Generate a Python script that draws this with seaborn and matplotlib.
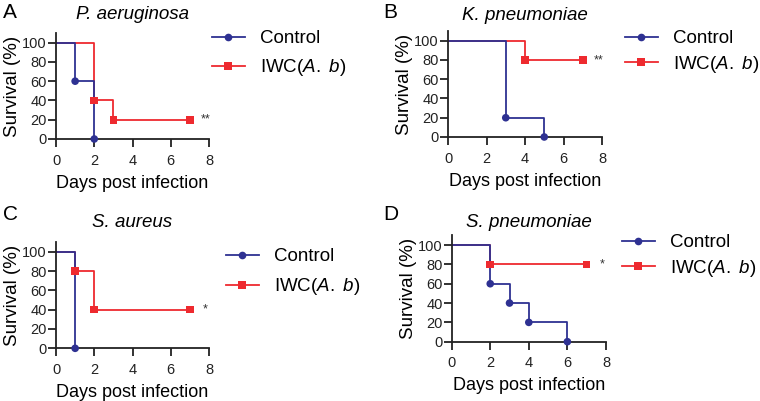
import matplotlib
matplotlib.use("Agg")
import matplotlib.pyplot as plt
import seaborn as sns
import pandas as pd
from matplotlib.lines import Line2D

# ---- data ----
panels = ["A", "B", "C", "D"]
titles = ["P. aeruginosa", "K. pneumoniae", "S. aureus", "S. pneumoniae"]
signif = ["**", "**", "*", "*"]

# step curves: days and survival (%) for each group
ctrl_days = [[0, 1, 2], [0, 3, 5], [0, 1], [0, 2, 3, 4, 6]]
ctrl_surv = [[100, 60, 0], [100, 20, 0], [100, 0], [100, 60, 40, 20, 0]]
iwc_days = [[0, 2, 3, 7], [0, 4, 7], [0, 1, 2, 7], [0, 2, 7]]
iwc_surv = [[100, 40, 20, 20], [100, 80, 80], [100, 80, 40, 40], [100, 80, 80]]
star_y = [20, 80, 40, 80]

groups = ["Control", "IWC(A. b)"]
colors = {"Control": "#2E3192", "IWC(A. b)": "#EE2A2F"}
markers = {"Control": "o", "IWC(A. b)": "s"}

plt.rcParams["font.family"] = ["Liberation Sans", "DejaVu Sans"]
plt.rcParams["mathtext.fontset"] = "custom"
plt.rcParams["mathtext.it"] = "Liberation Sans:italic"
plt.rcParams["mathtext.rm"] = "Liberation Sans"

fig = plt.figure(figsize=(7.6, 4.01), dpi=100)

# axes boxes in figure fractions
boxes = [
    [0.0737, 0.6534, 0.2013, 0.2643],
    [0.5895, 0.6584, 0.2026, 0.2640],
    [0.0737, 0.1314, 0.2013, 0.2650],
    [0.5943, 0.1479, 0.2030, 0.2650],
]
legend_pos = [(212, 36), (625, 36), (226, 254), (622, 240)]
legend_gap = [0.55, 0.35, 0.6, 0.35]
title_pad = [10, 8, 11, 6]
letter_pos = [(3, 3), (383, 3), (3, 205), (383, 205)]

W, H = 760, 401

for i in range(4):
    ax = fig.add_axes(boxes[i])
    frames = []
    for g, d, s in [("IWC(A. b)", iwc_days[i], iwc_surv[i]),
                    ("Control", ctrl_days[i], ctrl_surv[i])]:
        frames.append(pd.DataFrame({"day": d, "surv": s, "group": g}))
    for df in frames:
        g = df["group"].iloc[0]
        sns.lineplot(data=df, x="day", y="surv", color=colors[g],
                     drawstyle="steps-post", lw=1.3, ax=ax, legend=False,
                     estimator=None, clip_on=False)
        ev = df.iloc[1:]
        sns.scatterplot(data=ev, x="day", y="surv", color=colors[g],
                        marker=markers[g], s=30, edgecolor="none",
                        ax=ax, legend=False, clip_on=False, zorder=4)
    ax.text(7.8, star_y[i], signif[i], fontsize=9, va="center", ha="center",
            color="#333333")
    ax.set_xlim(0, 8)
    ax.set_ylim(0, 110)
    ax.set_xticks([0, 2, 4, 6, 8])
    ax.set_yticks([0, 20, 40, 60, 80, 100])
    ax.spines[["top", "right"]].set_visible(False)
    for sp in ["left", "bottom"]:
        ax.spines[sp].set_linewidth(1.3)
        ax.spines[sp].set_color("#222222")
    ax.tick_params(length=5.5, width=1.3, labelsize=10.5, colors="#222222")
    ax.tick_params(axis="y", pad=1)
    ax.tick_params(axis="x", pad=5)
    ax.set_xlabel("Days post infection", fontsize=13, labelpad=5)
    ax.set_ylabel("Survival (%)", fontsize=13.5, labelpad=1)
    ax.set_title(titles[i], fontsize=13.5, style="italic", pad=title_pad[i])

    handles = [Line2D([], [], color=colors[g], marker=markers[g], lw=1.3,
                      markersize=5.5, markeredgewidth=0) for g in groups]
    labels = ["Control", r"IWC($\it{A.}$ $\it{b}$)"]
    lx, ly = legend_pos[i]
    leg = fig.legend(handles, labels, loc="upper left",
                     bbox_to_anchor=(lx / W, 1 - (ly - 6) / H),
                     frameon=False, fontsize=13.5, borderpad=0,
                     borderaxespad=0, handlelength=1.75, handletextpad=0.8,
                     labelspacing=legend_gap[i])

    px, py = letter_pos[i]
    fig.text(px / W, 1 - py / H, panels[i], fontsize=15, va="top", ha="left")

fig.savefig("out.png", dpi=100)
